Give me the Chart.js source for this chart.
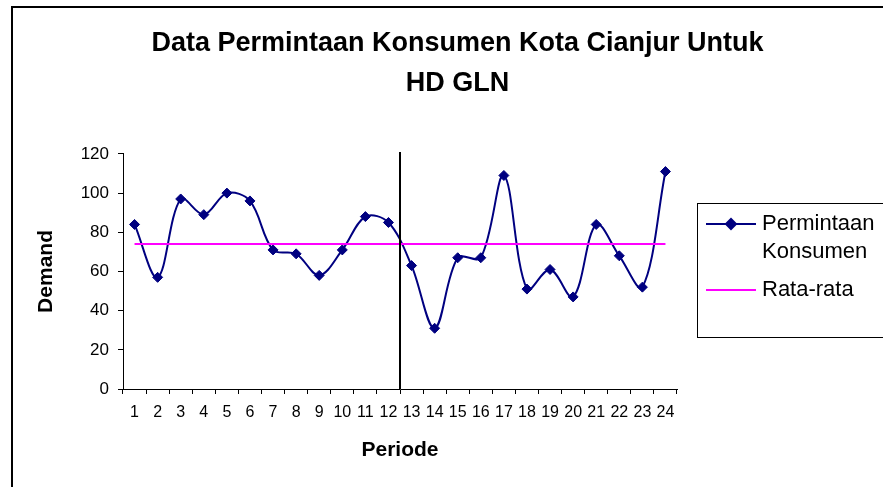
<!DOCTYPE html>
<html>
<head>
<meta charset="utf-8">
<title>Data Permintaan Konsumen Kota Cianjur Untuk HD GLN</title>
<script src="https://cdn.jsdelivr.net/npm/chart.js@4/dist/chart.umd.min.js"></script>
<style>
  body { margin: 0; background: #fff; overflow: hidden; }
  #wrap { width: 883px; height: 487px; }
</style>
</head>
<body>
<div id="wrap"><canvas id="myChart" width="883" height="487"></canvas></div>
<script>
// data
var periode = ['1','2','3','4','5','6','7','8','9','10','11','12',
               '13','14','15','16','17','18','19','20','21','22','23','24'];
var permintaan = [84, 57, 97, 89, 100, 96, 71, 69, 58, 71, 88, 85,
                  63, 31, 67, 67, 109, 51, 61, 47, 84, 68, 52, 111];
var rataRata = 74;
var yTicks = [0, 20, 40, 60, 80, 100, 120];
var splitAfter = 12; // vertical line between period 12 and 13

var FONT = "'Liberation Sans', Arial, sans-serif";

// white page + outer frame of the chart
var framePlugin = {
    id: 'frame',
    beforeDraw: function(chart){
        var ctx = chart.ctx;
        ctx.save();
        ctx.fillStyle = '#fff';
        ctx.fillRect(0, 0, chart.width, chart.height);
        ctx.strokeStyle = '#000';
        ctx.lineWidth = 2;
        ctx.strokeRect(12, 7, chart.width + 50, chart.height + 50);
        ctx.restore();
    }
};

// vertical separator at the boundary between two periods
var splitPlugin = {
    id: 'split',
    afterDatasetsDraw: function(chart){
        var x = chart.scales.x;
        var y = chart.scales.y;
        var px = (x.getPixelForValue(splitAfter - 1) + x.getPixelForValue(splitAfter)) / 2;
        var ctx = chart.ctx;
        ctx.save();
        ctx.strokeStyle = '#000';
        ctx.lineWidth = 2;
        ctx.beginPath();
        ctx.moveTo(px, y.top - 2);
        ctx.lineTo(px, y.bottom);
        ctx.stroke();
        ctx.restore();
    }
};

// boxed legend on the right, text wrapped like the original
var legendPlugin = {
    id: 'boxLegend',
    afterDraw: function(chart){
        var ctx = chart.ctx;
        var left = chart.chartArea.right + 20;
        var top = 203;
        ctx.save();
        ctx.strokeStyle = '#000';
        ctx.lineWidth = 1;
        ctx.strokeRect(left + 0.5, top + 0.5, 400, 134);

        var rows = [
            { ds: chart.data.datasets[0], lines: ['Permintaan', 'Konsumen'], y: top + 21 },
            { ds: chart.data.datasets[1], lines: ['Rata-rata'], y: top + 87 }
        ];
        ctx.font = '22px ' + FONT;
        ctx.textBaseline = 'middle';
        ctx.fillStyle = '#000';
        rows.forEach(function(r){
            ctx.strokeStyle = r.ds.borderColor;
            ctx.lineWidth = 2;
            ctx.beginPath();
            ctx.moveTo(left + 9, r.y);
            ctx.lineTo(left + 59, r.y);
            ctx.stroke();
            if (r.ds.pointRadius > 0) {
                Chart.helpers.drawPoint(ctx, {
                    pointStyle: 'rectRot', radius: r.ds.pointRadius, borderWidth: 1
                }, left + 34, r.y);
                ctx.fillStyle = r.ds.pointBackgroundColor;
                ctx.fill();
            }
            ctx.fillStyle = '#000';
            r.lines.forEach(function(t, i){
                ctx.fillText(t, left + 65, r.y + i * 28);
            });
        });
        ctx.restore();
    }
};

var ctx = document.getElementById('myChart').getContext('2d');
var chart = new Chart(ctx, {
    type: 'line',
    data: {
        labels: periode,
        datasets: [{
            label: 'Permintaan Konsumen',
            data: permintaan,
            borderColor: '#000080',
            backgroundColor: '#000080',
            pointBackgroundColor: '#000080',
            pointBorderColor: '#000080',
            pointStyle: 'rectRot',
            pointRadius: 5,
            pointBorderWidth: 1,
            borderWidth: 2,
            tension: 0.35,
            order: 1
        }, {
            label: 'Rata-rata',
            data: periode.map(function(){ return rataRata; }),
            borderColor: '#FF00FF',
            backgroundColor: '#FF00FF',
            pointRadius: 0,
            borderWidth: 2,
            tension: 0,
            order: 0
        }]
    },
    options: {
        responsive: false,
        animation: false,
        events: [],
        layout: { padding: { left: 32, right: 0, top: 0, bottom: 0 } },
        plugins: {
            legend: { display: false },
            tooltip: { enabled: false },
            title: {
                display: true,
                text: ['Data Permintaan Konsumen Kota Cianjur Untuk', 'HD GLN'],
                color: '#000',
                font: { family: FONT, size: 27, weight: 'bold', lineHeight: 1.48 },
                padding: { top: 24, bottom: 50 }
            }
        },
        scales: {
            x: {
                offset: true,
                grid: { offset: true, drawOnChartArea: false, drawTicks: true, tickLength: 5, color: '#000' },
                border: { color: '#000', width: 1 },
                ticks: { color: '#000', font: { family: FONT, size: 16 }, padding: 9, maxRotation: 0, autoSkip: false },
                title: {
                    display: true, text: 'Periode', color: '#000',
                    font: { family: FONT, size: 21, weight: 'bold' },
                    padding: { top: 0, bottom: 24 }
                },
                afterFit: function(s){ s.height = 98; }
            },
            y: {
                min: 0, max: 120,
                afterBuildTicks: function(s){ s.ticks = yTicks.map(function(v){ return { value: v }; }); },
                grid: { drawOnChartArea: false, drawTicks: true, tickLength: 5, color: '#000' },
                border: { color: '#000', width: 1 },
                ticks: { color: '#000', font: { family: FONT, size: 17 }, padding: 9 },
                title: {
                    display: true, text: 'Demand', color: '#000',
                    font: { family: FONT, size: 21, weight: 'bold' },
                    padding: { top: 2, bottom: 0 }
                },
                afterFit: function(s){ s.width = 91; }
            },
            yRight: {
                position: 'right',
                display: true,
                grid: { display: false },
                border: { display: false },
                ticks: { display: false },
                afterFit: function(s){ s.width = 206; }
            }
        }
    },
    plugins: [framePlugin, splitPlugin, legendPlugin]
});
</script>
</body>
</html>
